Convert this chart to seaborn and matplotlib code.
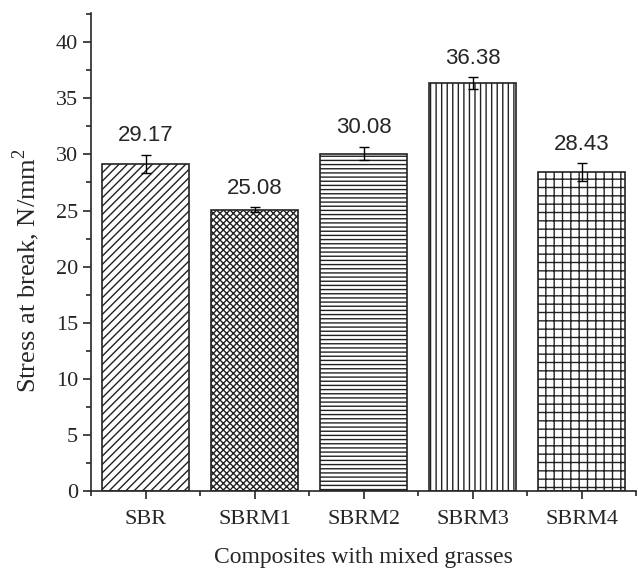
import numpy as np
import pandas as pd
import matplotlib
matplotlib.use("Agg")
import matplotlib.pyplot as plt
import seaborn as sb
from matplotlib.ticker import MultipleLocator, FixedLocator

samples = ["SBR", "SBRM1", "SBRM2", "SBRM3", "SBRM4"]
stress = [29.17, 25.08, 30.08, 36.38, 28.43]
stress_err = [0.8, 0.2, 0.6, 0.5, 0.8]
hatches = ["////", "xxxxx", "----", "|||", "++"]

sb.set_style("ticks")
plt.rcParams["font.family"] = "serif"
plt.rcParams["font.serif"] = ["Liberation Serif"]
plt.rcParams["mathtext.fontset"] = "custom"
plt.rcParams["mathtext.rm"] = "Liberation Serif"
plt.rcParams["hatch.linewidth"] = 1.0

SERIF = "Liberation Serif"

df = pd.DataFrame({"Sample": samples, "Stress": stress})

f = plt.figure(figsize=(6.38, 5.74), dpi=100)
ax = f.add_axes([0.143, 0.145, 0.854, 0.832])

sb.barplot(data=df, x="Sample", y="Stress", color="white", width=0.8,
           edgecolor="#222222", linewidth=1.2, ax=ax)
for bar, h in zip(ax.patches, hatches):
    bar.set_hatch(h)

ax.errorbar(np.arange(len(samples)), stress, yerr=stress_err, fmt="none",
            ecolor="black", elinewidth=1, capsize=3.5, capthick=1)

for i, (v, e) in enumerate(zip(stress, stress_err)):
    ax.annotate(f"{v:.2f}", (i, v + e), xytext=(0, 6), textcoords="offset points",
                ha="center", va="bottom", fontsize=16, family="Liberation Sans")

ax.set_xlim(-0.5, 4.5)
ax.set_ylim(0, 42.6)
ax.yaxis.set_major_locator(MultipleLocator(5))
ax.yaxis.set_minor_locator(MultipleLocator(2.5))
ax.xaxis.set_minor_locator(FixedLocator(np.arange(-0.5, 5, 1)))
ax.tick_params(axis="both", which="major", direction="out", length=6, width=1.2, labelsize=16)
ax.tick_params(axis="both", which="minor", direction="out", length=3.5, width=1.2)
ax.tick_params(axis="x", which="major", pad=8)
for lab in ax.get_xticklabels() + ax.get_yticklabels():
    lab.set_family(SERIF)

ax.set_xlabel("Composites with mixed grasses", fontsize=17, labelpad=13, family=SERIF)
ax.set_ylabel("Stress at break, N/mm$^2$", fontsize=19, labelpad=10, family=SERIF, y=0.46)

sb.despine(ax=ax)
for s in ["left", "bottom"]:
    ax.spines[s].set_linewidth(1.2)

f.savefig("out.png", dpi=100)
